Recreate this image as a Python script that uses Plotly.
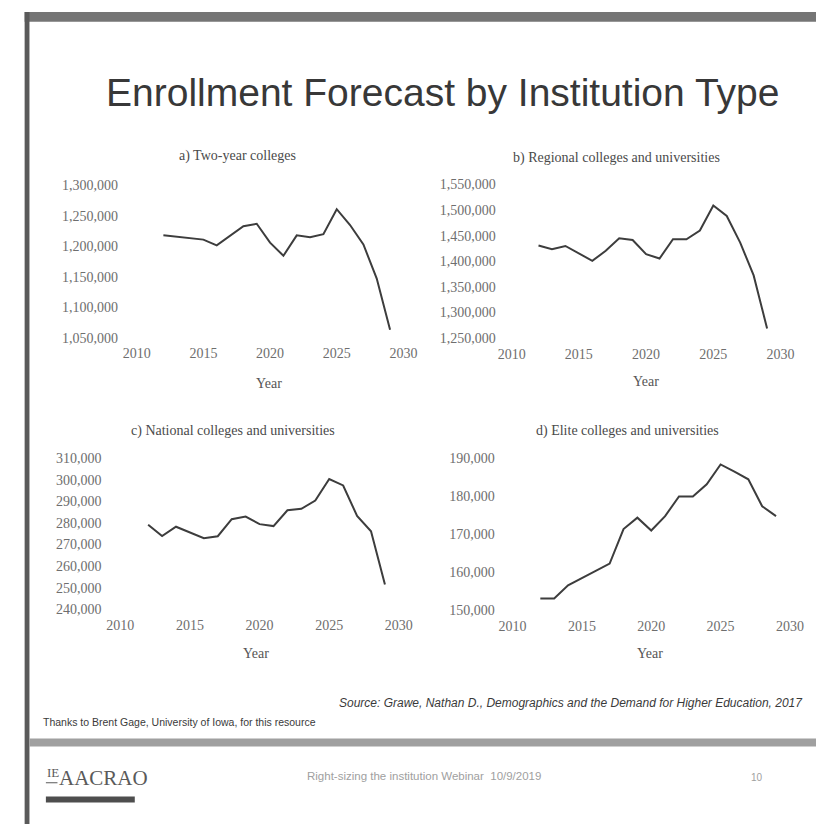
import plotly.graph_objects as go

W, H = 830, 832

years = list(range(2012, 2030))

two_year = [1218000, 1216000, 1214000, 1211000, 1201500, 1217000, 1233000, 1237000, 1206000,
            1184500, 1218000, 1215000, 1220000, 1261000, 1235000, 1203000, 1147000, 1063000]
regional = [1431000, 1423500, 1430000, 1416000, 1401000, 1420500, 1445000, 1441500, 1414000,
            1405500, 1443000, 1443000, 1460000, 1509000, 1488500, 1436500, 1372500, 1269000]
national = [279100, 273900, 278200, 275600, 272900, 273800, 281700, 282900, 279400,
            278500, 285800, 286500, 290300, 300300, 297300, 283200, 276100, 251400]
elite = [153000, 153000, 156500, 158400, 160500, 162200, 171300, 174300, 170900,
         174700, 179900, 179900, 183100, 188300, 186400, 184400, 177300, 174700]

panel_titles = ["a) Two-year colleges", "b) Regional colleges and universities",
                "c) National colleges and universities", "d) Elite colleges and universities"]
x_title = "Year"
x_ticks = [2010, 2015, 2020, 2025, 2030]
y_ranges = [(1050000, 1300000, 50000), (1250000, 1550000, 50000),
            (240000, 310000, 10000), (150000, 190000, 10000)]

main_title = "Enrollment Forecast by Institution Type"
source_text = "Source: Grawe, Nathan D., Demographics and the Demand for Higher Education, 2017"
thanks_text = "Thanks to Brent Gage, University of Iowa, for this resource"
footer_text = "Right-sizing the institution Webinar  10/9/2019"
page_no = "10"
logo_text = "AACRAO"

# pixel boxes: (left, right, top, bottom)
boxes = [(127, 403, 181.7, 336.7), (515, 793.3, 180.7, 337.3),
         (110, 398.3, 459.3, 613.3), (516, 803, 459.3, 614)]
title_pos = [(231, 152), (624, 154), (227, 432), (635, 432)]
year_pos = [(264, 383), (654, 381), (250, 658), (658, 658)]
ylab_std = [15, 12, 15, 14]

def px(x):
    return x / W

def py(y):
    return 1 - y / H

series = [two_year, regional, national, elite]
fig = go.Figure()
serif = "Liberation Serif, Times New Roman, serif"
sans = "Liberation Sans, Arial, sans-serif"
tick_col = "#6e6e6e"

for i, (vals, box) in enumerate(zip(series, boxes)):
    n = "" if i == 0 else str(i + 1)
    fig.add_trace(go.Scatter(x=years, y=vals, mode="lines",
                             line=dict(color="#3d3d3d", width=2),
                             xaxis="x" + n, yaxis="y" + n, showlegend=False,
                             hoverinfo="skip"))
    l, r, t, b = box
    lo, hi, step = y_ranges[i]
    fig.layout["xaxis" + n] = dict(domain=[px(l), px(r)], range=[2010, 2030],
                                   tickvals=x_ticks, showgrid=False, zeroline=False,
                                   showline=False, ticks="outside", ticklen=3,
                                   tickcolor="rgba(0,0,0,0)",
                                   tickfont=dict(family=serif, size=14, color=tick_col),
                                   anchor="y" + n, fixedrange=True)
    fig.layout["yaxis" + n] = dict(domain=[py(b), py(t)], range=[lo, hi],
                                   tickvals=list(range(lo, hi + 1, step)),
                                   tickformat=",", showgrid=False, zeroline=False,
                                   showline=False, ticks="outside", ticklen=ylab_std[i],
                                   tickcolor="rgba(0,0,0,0)",
                                   tickfont=dict(family=serif, size=14, color=tick_col),
                                   anchor="x" + n, fixedrange=True)

annotations = []
for (tx, ty), txt in zip(title_pos, panel_titles):
    annotations.append(dict(x=px(tx), y=py(ty), xref="paper", yref="paper", text=txt,
                            showarrow=False, xanchor="center", yanchor="middle",
                            font=dict(family=serif, size=14, color="#4a4a4a")))
for (tx, ty) in year_pos:
    annotations.append(dict(x=px(tx), y=py(ty), xref="paper", yref="paper", text=x_title,
                            showarrow=False, xanchor="center", yanchor="middle",
                            font=dict(family=serif, size=14, color="#555555")))

annotations += [
    dict(x=px(443), y=py(87), xref="paper", yref="paper", text=main_title,
         showarrow=False, xanchor="center", yanchor="middle",
         font=dict(family=sans, size=39, color="#383838")),
    dict(x=px(819), y=py(709), xref="paper", yref="paper", text="<i>" + source_text + "</i>",
         showarrow=False, xanchor="right", yanchor="middle",
         font=dict(family=sans, size=12, color="#3a3a3a")),
    dict(x=px(28), y=py(728), xref="paper", yref="paper", text=thanks_text,
         showarrow=False, xanchor="left", yanchor="middle",
         font=dict(family=sans, size=10.5, color="#3a3a3a")),
    dict(x=px(301), y=py(783), xref="paper", yref="paper", text=footer_text,
         showarrow=False, xanchor="left", yanchor="middle",
         font=dict(family=sans, size=11.5, color="#a0a0a0")),
    dict(x=px(769), y=py(785), xref="paper", yref="paper", text=page_no,
         showarrow=False, xanchor="center", yanchor="middle",
         font=dict(family=sans, size=10, color="#a0a0a0")),
    dict(x=px(44), y=py(785), xref="paper", yref="paper", text=logo_text,
         showarrow=False, xanchor="left", yanchor="middle",
         font=dict(family=serif, size=21, color="#5a5a5a")),
    dict(x=px(32), y=py(780), xref="paper", yref="paper", text="IE",
         showarrow=False, xanchor="left", yanchor="middle",
         font=dict(family=serif, size=13, color="#5a5a5a")),
]

shapes = [
    # top band
    dict(type="rect", xref="paper", yref="paper", x0=px(11), x1=1, y0=py(15), y1=py(5),
         fillcolor="#757575", line=dict(width=0), layer="below"),
    # left border
    dict(type="rect", xref="paper", yref="paper", x0=px(11), x1=px(16), y0=0, y1=py(5),
         fillcolor="#5a5a5a", line=dict(width=0), layer="below"),
    # footer band
    dict(type="rect", xref="paper", yref="paper", x0=px(16), x1=1, y0=py(753), y1=py(745),
         fillcolor="#a0a0a0", line=dict(width=0), layer="below"),
    # logo badge
    dict(type="rect", xref="paper", yref="paper", x0=px(33), x1=px(125), y0=py(810), y1=py(804),
         fillcolor="#4e4e4e", line=dict(width=0), layer="below"),
    dict(type="line", xref="paper", yref="paper", x0=px(33), x1=px(45), y0=py(790), y1=py(790),
         line=dict(color="#5a5a5a", width=1)),
]

fig.update_layout(width=W, height=H, margin=dict(l=0, r=0, t=0, b=0),
                  paper_bgcolor="#ffffff", plot_bgcolor="rgba(0,0,0,0)",
                  annotations=annotations, shapes=shapes, showlegend=False)

fig.write_html("out.html", config={"displayModeBar": False},
               post_script="document.body.style.margin='0';document.body.style.overflow='hidden';")
